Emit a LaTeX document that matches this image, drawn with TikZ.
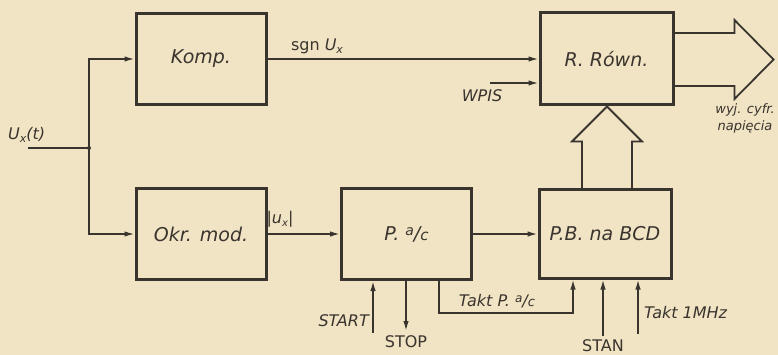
\documentclass[tikz,border=0pt]{standalone}
\usepackage{fontspec}
\setmainfont{DejaVu Sans}
\usetikzlibrary{arrows.meta,calc}
\definecolor{ink}{RGB}{58,52,46}
\definecolor{paper}{RGB}{240,228,196}
\newcommand\myfracac{{\raisebox{0.45ex}{\fontsize{14}{14}\selectfont a}}/{\fontsize{15}{15}\selectfont c}}
\newcommand\mysmallfrac{{\raisebox{0.45ex}{\fontsize{12}{12}\selectfont a}}/{\fontsize{13}{13}\selectfont c}}
\newcommand\mysubx[1]{\raisebox{-0.35ex}{\fontsize{#1}{#1}\selectfont x}}
\begin{document}
\begin{tikzpicture}[x=1pt,y=-1pt,
  blk/.style={draw=ink,line width=3pt,minimum width=130pt,minimum height=91pt,inner sep=0pt,
    text=ink,font=\fontsize{19}{22}\selectfont\itshape},
  myline/.style={draw=ink,line width=1.6pt},
  myarr/.style={myline,-{Latex[length=10pt,width=5.5pt]}},
  hollowarr/.style={draw=ink,line width=1.8pt,line join=miter},
  lbl/.style={text=ink,inner sep=0pt,font=\fontsize{16}{18}\selectfont\itshape},
  lblup/.style={text=ink,inner sep=0pt,font=\fontsize{16}{18}\selectfont},
  smalllbl/.style={text=ink,inner sep=0pt,align=center,font=\fontsize{13}{17}\selectfont\itshape}]
\fill[paper] (0,0) rectangle (778,355);
\useasboundingbox (0,0) rectangle (778,355);

% blocks
\node[blk] (komp) at (201,59) {Komp.};
\node[blk] (okr) at (201,234) {Okr. mod.};
\node[blk] (pac) at (406.5,234) {P. \myfracac};
\node[blk,minimum width=132pt,minimum height=88pt] (pb) at (605,234) {P.B. na BCD};
\node[blk,minimum width=133pt,minimum height=92pt] (rr) at (606.5,59) {R. Równ.};

% input
\coordinate (inp) at (28,148);
\coordinate (jn) at (89,148);
\node[lbl,anchor=south west] (ulab) at (8,143) {U\mysubx{11}(t)};
\draw[myline] (inp) -- (jn);
\fill[ink] (jn) circle (2pt);
\draw[myarr] (jn) |- (komp.west);
\draw[myarr] (jn) |- (okr.west);

% top path
\draw[myarr] (komp.east) -- (rr.west);
\node[lbl,anchor=south] (sgn) at (317,54) {{\upshape sgn} U\mysubx{11}};

% WPIS
\coordinate (w) at (490,83);
\draw[myarr] (w) -- (w -| rr.west);
\node[lbl,anchor=north] (wpis) at (482,89) {WPIS};

% bottom chain
\draw[myarr] (okr.east) -- (pac.west);
\node[lbl,anchor=south] (absl) at (280,227) {\textbar u\mysubx{10}\textbar};
\draw[myarr] (pac.east) -- (pb.west);

% START / STOP
\coordinate (st) at (373,333);
\draw[myarr] (st) -- (st |- pac.south);
\node[lbl,anchor=east] (start) at (369,321) {START};
\coordinate (sp) at (406,331);
\draw[myarr] (sp |- pac.south) -- (sp);
\node[lblup,anchor=north] (stop) at (406,335) {STOP};

% Takt P a/c
\coordinate (tk) at (439,313);
\coordinate (tkb) at (573,313);
\draw[myarr] (tk |- pac.south) -- (tk) -- (tkb) -- (tkb |- pb.south);
\node[lbl,anchor=south] (taktp) at (497,308) {Takt P. \mysmallfrac};

% STAN / Takt 1MHz
\coordinate (sn) at (603,336);
\draw[myarr] (sn) -- (sn |- pb.south);
\node[lblup,anchor=north] (stan) at (603,339) {STAN};
\coordinate (tm) at (638,334);
\draw[myarr] (tm) -- (tm |- pb.south);
\node[lbl,anchor=west] (takt1) at (644,313) {Takt 1MHz};

% hollow arrow up (P.B. -> R. Rown.)
\draw[hollowarr] ($(pb.north)+(-23,0)$) -- ++(0,-47) -- ++(-10,0) -- ($(rr.south)+(0.5,0)$)
  -- ($(pb.north)+(37,-47)$) -- ++(-10,0) -- ($(pb.north)+(27,0)$);

% hollow arrow right (output)
\draw[hollowarr] ($(rr.east)+(0,-26)$) -- ++(60,0) -- ++(0,-13) -- ++(39,39.5) -- ++(-39,39.5) -- ++(0,-13)
  -- ($(rr.east)+(0,27)$);
\node[smalllbl,anchor=north] (outl) at (745,103) {wyj. cyfr.\\napięcia};
\end{tikzpicture}
\end{document}
